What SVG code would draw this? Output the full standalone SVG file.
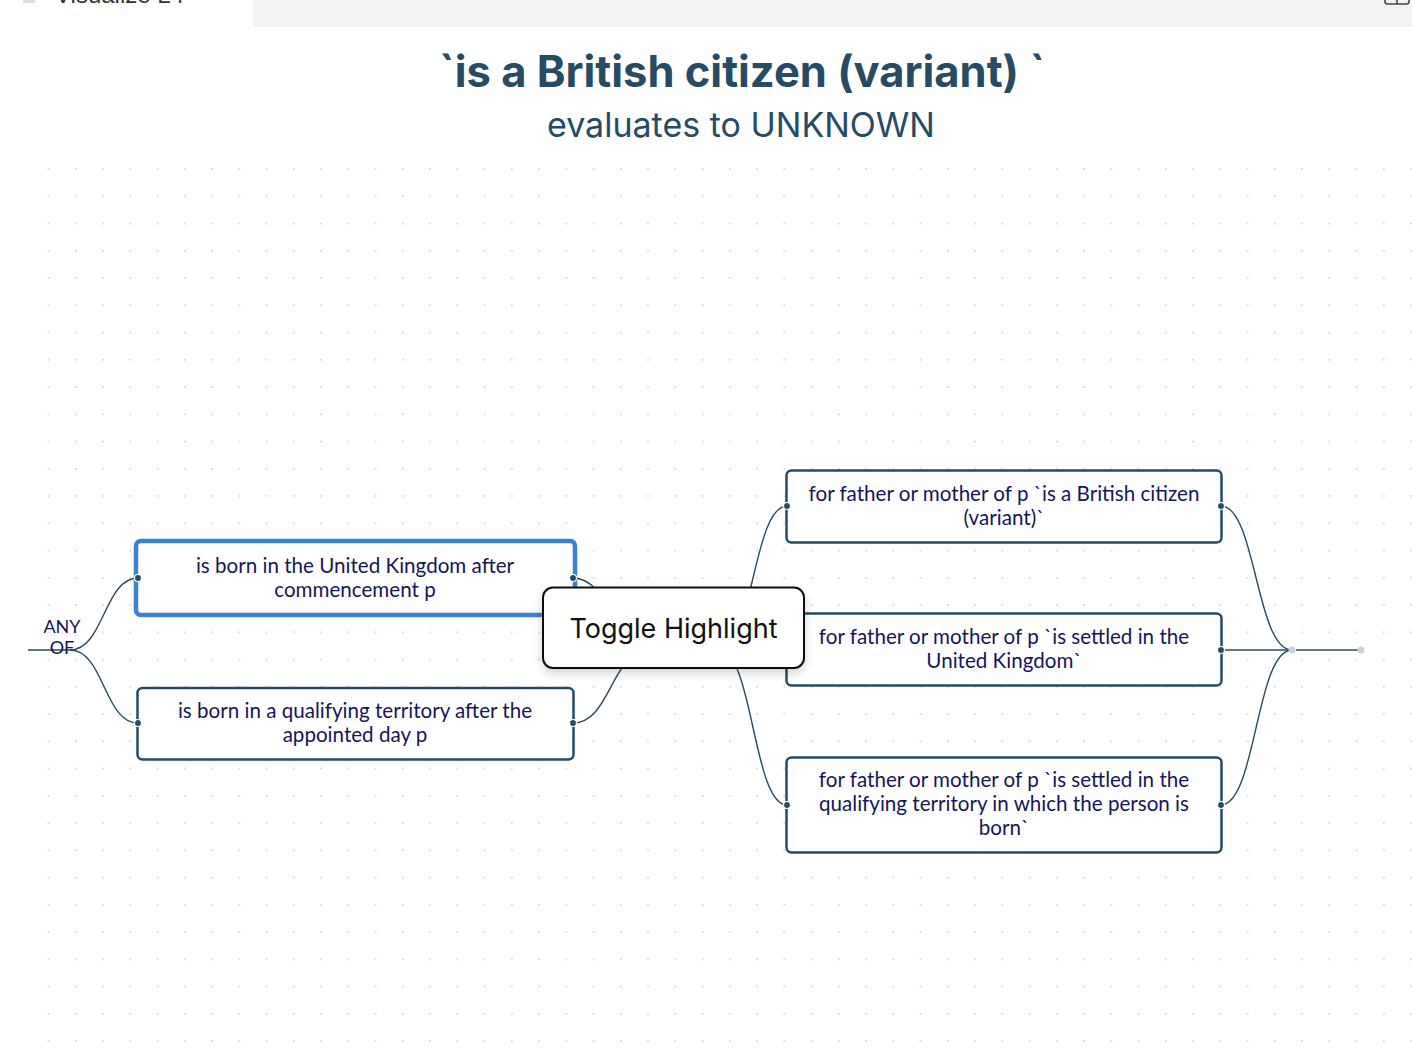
<svg xmlns="http://www.w3.org/2000/svg" width="1412" height="1058" viewBox="0 0 1412 1058">
<style>
.node rect{fill:#fff;stroke:#264b63;stroke-width:2.5}
.node.hl rect{stroke:#3a84cf;stroke-width:4.5}
.ntext{font-family:Lato,"Noto Sans",sans-serif;font-size:20.6px;fill:#15155a;text-anchor:middle}
.port{fill:#264b63;stroke:#fff;stroke-width:1.2}
.link{fill:none;stroke:#264b63;stroke-width:1.4}
.end{fill:#c9d3db}
</style>
<defs>
<pattern id="grid" patternUnits="userSpaceOnUse" x="35" y="155.5" width="27.25" height="27.25">
<rect x="12.8" y="12.8" width="1.5" height="1.5" fill="#c6c6c6"/>
</pattern>
<filter id="shadow" x="-20%" y="-30%" width="140%" height="170%">
<feDropShadow dx="0" dy="4" stdDeviation="5" flood-color="#000" flood-opacity="0.18"/>
</filter>
</defs>
<rect width="1412" height="1058" fill="#fff"/>
<rect x="253" y="0" width="1159" height="27" fill="#f2f2f2"/>
<rect x="23" y="-10" width="12" height="13" fill="#ddd"/>
<text x="55" y="3" font-family="Liberation Sans,sans-serif" font-size="24" fill="#333">Visualize L4</text>
<rect x="1385" y="-10" width="24" height="14" rx="2.5" fill="none" stroke="#444" stroke-width="1.6"/>
<line x1="1397" y1="-10" x2="1397" y2="4" stroke="#444" stroke-width="1.6"/>
<rect x="35" y="155" width="1377" height="903" fill="url(#grid)"/>
<text x="742" y="87" text-anchor="middle" font-family="Inter,Roboto,sans-serif" font-weight="700" font-size="43.5" fill="#264b63">`is a British citizen (variant) `</text>
<text x="741" y="137" text-anchor="middle" font-family="Inter,Roboto,sans-serif" font-size="34" fill="#264b63">evaluates to UNKNOWN</text>
<g id="connectors">
<line x1="28" y1="650" x2="72" y2="650" stroke="#5b7887" stroke-width="2"/>
<path class="link" d="M70,650 C104,650 104,578 138,578"/>
<path class="link" d="M70,650 C104,650 104,723 138,723"/>
<path class="link" d="M573,578 C611,578 611,650 650,650"/>
<path class="link" d="M573,723 C611,723 611,650 650,650"/>
<path class="link" d="M650,650 L719,650"/>
<path class="link" d="M719,650 C753,650 753,506 787,506"/>
<path class="link" d="M719,650 L787,650"/>
<path class="link" d="M719,650 C753,650 753,805 787,805"/>
<path class="link" d="M1221,506 C1256,506 1256,650 1292,650"/>
<path class="link" d="M1221,650 L1292,650"/>
<path class="link" d="M1221,805 C1256,805 1256,650 1292,650"/>
<line x1="1296" y1="650" x2="1358" y2="650" stroke="#264b63" stroke-width="1.4"/>
<circle class="end" cx="1292" cy="650" r="3.5"/>
<circle class="end" cx="1361" cy="650" r="3.5"/>
</g>
<text x="62" y="633" class="ntext" style="font-size:18px">ANY</text>
<text x="62" y="654" class="ntext" style="font-size:18px">OF</text>
<g id="n1" class="node hl">
<rect x="136" y="541" width="439" height="74" rx="5"/>
<text class="ntext" x="355" y="573">is born in the United Kingdom after</text>
<text class="ntext" x="355" y="597">commencement p</text>
<circle class="port" cx="138" cy="578" r="3.5"/>
<circle class="port" cx="573" cy="578" r="3.5"/>
</g>
<g id="n2" class="node">
<rect x="137.5" y="688" width="436" height="71.5" rx="5"/>
<text class="ntext" x="355" y="718">is born in a qualifying territory after the</text>
<text class="ntext" x="355" y="742">appointed day p</text>
<circle class="port" cx="138" cy="723" r="3.5"/>
<circle class="port" cx="573" cy="723" r="3.5"/>
</g>
<g id="n3" class="node">
<rect x="786.5" y="470.5" width="435" height="72" rx="5"/>
<text class="ntext" x="1004" y="501">for father or mother of p `is a British citizen</text>
<text class="ntext" x="1004" y="525">(variant)`</text>
<circle class="port" cx="787" cy="506" r="3.5"/>
<circle class="port" cx="1221" cy="506" r="3.5"/>
</g>
<g id="n4" class="node">
<rect x="786.5" y="613.5" width="435" height="72" rx="5"/>
<text class="ntext" x="1004" y="644">for father or mother of p `is settled in the</text>
<text class="ntext" x="1004" y="668">United Kingdom`</text>
<circle class="port" cx="787" cy="650" r="3.5"/>
<circle class="port" cx="1221" cy="650" r="3.5"/>
</g>
<g id="n5" class="node">
<rect x="786.5" y="757.5" width="435" height="95" rx="5"/>
<text class="ntext" x="1004" y="787">for father or mother of p `is settled in the</text>
<text class="ntext" x="1004" y="811">qualifying territory in which the person is</text>
<text class="ntext" x="1004" y="835">born`</text>
<circle class="port" cx="787" cy="805" r="3.5"/>
<circle class="port" cx="1221" cy="805" r="3.5"/>
</g>
<g id="toggle">
<rect x="543" y="587.5" width="261" height="80.5" rx="10" fill="#fff" stroke="#111" stroke-width="2" filter="url(#shadow)"/>
<text x="673.5" y="638" text-anchor="middle" font-family="Inter,Roboto,sans-serif" font-size="27" fill="#111">Toggle Highlight</text>
</g>
</svg>
